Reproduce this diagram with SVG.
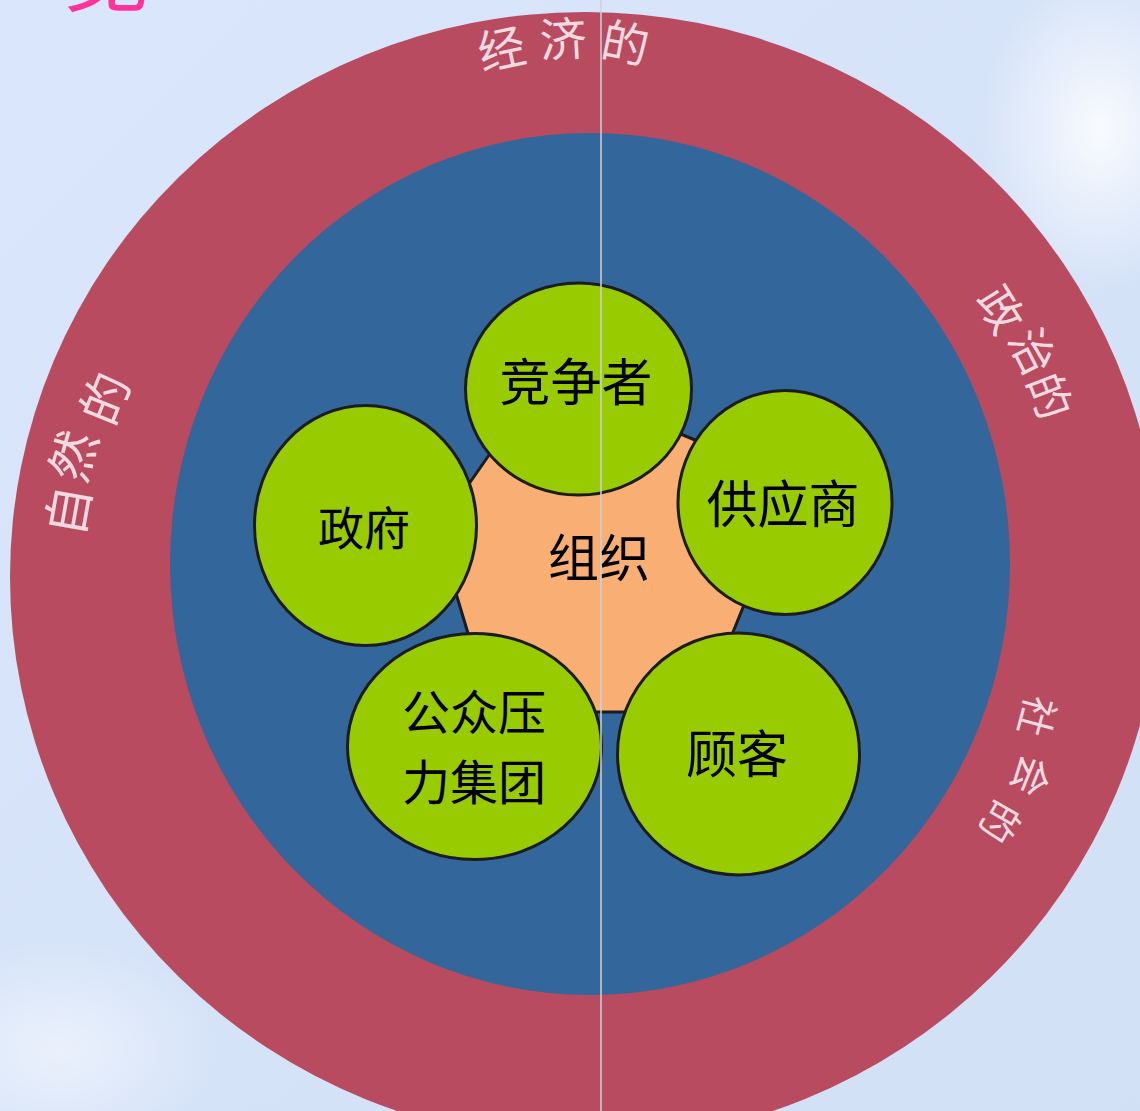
<svg xmlns="http://www.w3.org/2000/svg" width="1140" height="1111" viewBox="0 0 1140 1111">
  <defs>
    <linearGradient id="bg" x1="0" y1="0" x2="1" y2="1">
      <stop offset="0" stop-color="#d9e6fb"/>
      <stop offset="1" stop-color="#d2e0f6"/>
    </linearGradient>
    <radialGradient id="glow" cx="0.5" cy="0.5" r="0.5">
      <stop offset="0" stop-color="#ffffff" stop-opacity="0.85"/>
      <stop offset="1" stop-color="#ffffff" stop-opacity="0"/>
    </radialGradient>
    <style>
      .ring-text { font-family: "Noto Sans CJK SC", "Noto Sans", sans-serif; fill: #f4d9e0; text-anchor: middle; dominant-baseline: central; }
      .node { fill: #99cc00; stroke: #1c1c1c; stroke-width: 3; }
      .label { font-family: "Noto Sans CJK SC", "Noto Sans", sans-serif; fill: #000000; text-anchor: middle; dominant-baseline: central; }
    </style>
  </defs>

  <!-- background -->
  <rect x="0" y="0" width="1140" height="1111" fill="url(#bg)"/>
  <ellipse cx="1100" cy="130" rx="120" ry="160" fill="url(#glow)"/>
  <ellipse cx="60" cy="1050" rx="160" ry="110" fill="url(#glow)" opacity="0.6"/>
  <text x="62" y="4" font-family="Noto Sans CJK SC, sans-serif" font-size="88" fill="#ff3399">览</text>

  <!-- outer ring -->
  <g id="ring-outer">
    <ellipse cx="585" cy="577" rx="575" ry="565" fill="#b84b5f"/>
    <text class="ring-text" font-size="47" transform="translate(501,46) rotate(-12)">经</text>
    <text class="ring-text" font-size="47" transform="translate(563,36) rotate(-3)">济</text>
    <text class="ring-text" font-size="47" transform="translate(626,40) rotate(11)">的</text>
    <text class="ring-text" font-size="45" transform="translate(1003,308) rotate(58)">政</text>
    <text class="ring-text" font-size="45" transform="translate(1035,350) rotate(63)">治</text>
    <text class="ring-text" font-size="45" transform="translate(1052,395) rotate(69)">的</text>
    <text class="ring-text" font-size="40" transform="translate(1039,717) rotate(105)">社</text>
    <text class="ring-text" font-size="40" transform="translate(1033,777) rotate(112)">会</text>
    <text class="ring-text" font-size="40" transform="translate(1002,823) rotate(120)">的</text>
    <text class="ring-text" font-size="50" transform="translate(65,510) rotate(-80)">自</text>
    <text class="ring-text" font-size="50" transform="translate(70,455) rotate(-74)">然</text>
    <text class="ring-text" font-size="50" transform="translate(102,397) rotate(-68)">的</text>
  </g>

  <!-- inner ring -->
  <g id="ring-inner">
    <ellipse cx="590" cy="564" rx="420" ry="431" fill="#33669a"/>
  </g>

  <!-- organisation -->
  <g id="org">
    <polygon points="496,445 671,430 707,445 746,600 729,642 633,712 590,712 470,640 455,590 464,491" fill="#f9ae73" stroke="#1c1c1c" stroke-width="3" stroke-linejoin="round"/>
    <text class="label" x="599" y="555" font-size="51">组织</text>
  </g>

  <g id="competitor">
    <ellipse class="node" cx="578.5" cy="389" rx="113" ry="106"/>
    <text class="label" x="576" y="379" font-size="51">竞争者</text>
  </g>
  <g id="supplier">
    <ellipse class="node" cx="785" cy="502.5" rx="107" ry="112"/>
    <text class="label" x="783" y="501" font-size="51">供应商</text>
  </g>
  <g id="government">
    <ellipse class="node" cx="365.5" cy="525.5" rx="111" ry="120"/>
    <text class="label" x="364" y="525" font-size="46">政府</text>
  </g>
  <g id="public">
    <ellipse class="node" cx="474.5" cy="746.5" rx="127" ry="113"/>
    <text class="label" x="474" y="709" font-size="48">公众压</text>
    <text class="label" x="474" y="779" font-size="48">力集团</text>
  </g>
  <g id="customer">
    <ellipse class="node" cx="738.5" cy="754" rx="121" ry="121"/>
    <text class="label" x="737" y="751" font-size="51">顾客</text>
  </g>

  <!-- divider line -->
  <g id="connectors">
    <line x1="601" y1="0" x2="601" y2="1111" stroke="#d0d0dc" stroke-width="2" opacity="0.75"/>
  </g>
</svg>
